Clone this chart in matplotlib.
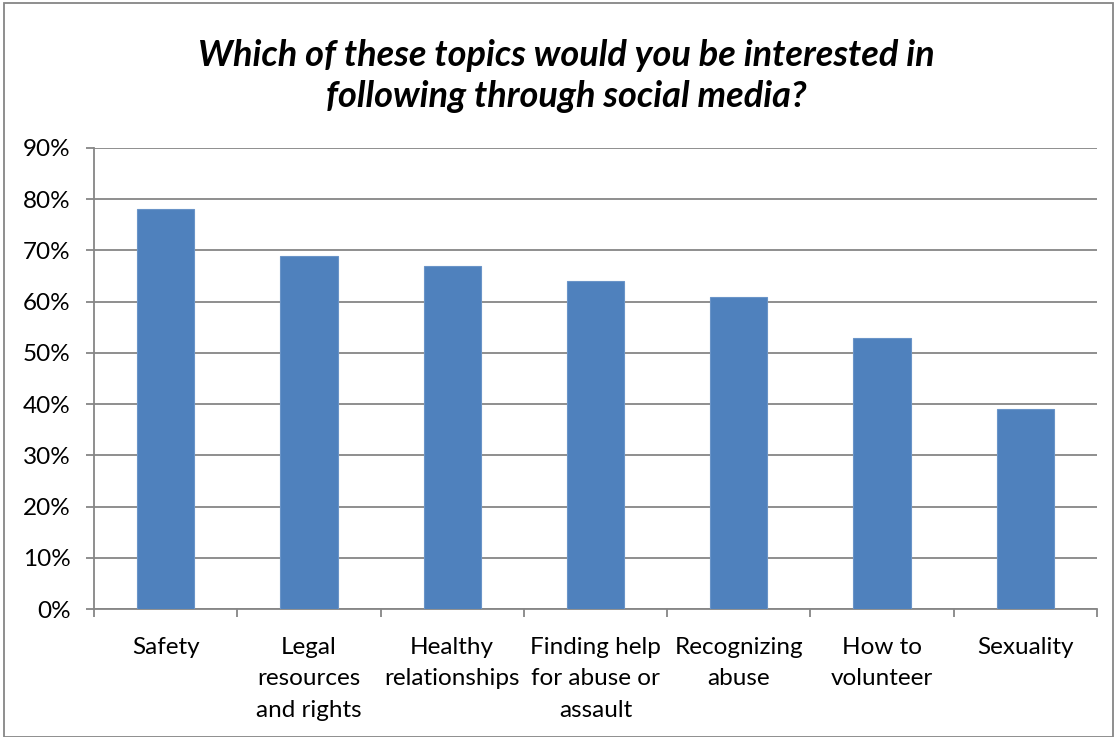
import numpy as np
import matplotlib.pyplot as plt
from matplotlib.patches import Rectangle

# survey results
topics = ["Safety", "Legal\nresources\nand rights", "Healthy\nrelationships",
          "Finding help\nfor abuse or\nassault", "Recognizing\nabuse",
          "How to\nvolunteer", "Sexuality"]
pct = [78, 69, 67, 64, 61, 53, 39]

plt.rcParams['font.family'] = ['Lato', 'DejaVu Sans']

fig = plt.figure(figsize=(11.17, 7.37), dpi=100)
ax = fig.add_axes([94 / 1117, 1 - 609 / 737, (1097 - 94) / 1117, (609 - 148) / 737])

x = np.arange(len(topics))
ax.bar(x, pct, width=0.4, color="#4F81BD", edgecolor="#6A94C8", linewidth=0.8, zorder=3)

ax.set_xlim(-0.5, len(topics) - 0.5)
ax.set_ylim(0, 90)
ax.set_yticks(np.arange(0, 91, 10))
ax.set_yticklabels([f"{v}%" for v in range(0, 91, 10)], fontsize=17.5)
ax.grid(axis="y", color="#868686", linewidth=1.3, zorder=0)

ax.set_xticks(x)
ax.set_xticklabels(topics, fontsize=17.5, linespacing=1.62, va="top")
ax.tick_params(axis="x", length=0, pad=20)
ax.set_xticks(np.arange(-0.5, len(topics)), minor=True)
ax.tick_params(axis="x", which="minor", length=6, width=1.3, color="#868686")
ax.tick_params(axis="y", length=6, width=1.3, color="#868686", pad=11)

for s in ["top", "right"]:
    ax.spines[s].set_visible(False)
for s in ["left", "bottom"]:
    ax.spines[s].set_color("#868686")
    ax.spines[s].set_linewidth(1.3)

fig.text(0.507, 0.8965, "Which of these topics would you be interested in\nfollowing through social media?",
         ha="center", va="center", fontsize=26, fontweight="bold", style="italic",
         linespacing=1.3)

fig.patches.append(Rectangle((4 / 1117, 0), 1 - 8 / 1117, 1 - 3 / 737, transform=fig.transFigure,
                             fill=False, edgecolor="#868686", linewidth=1.3))

fig.savefig("out.png", dpi=100)
